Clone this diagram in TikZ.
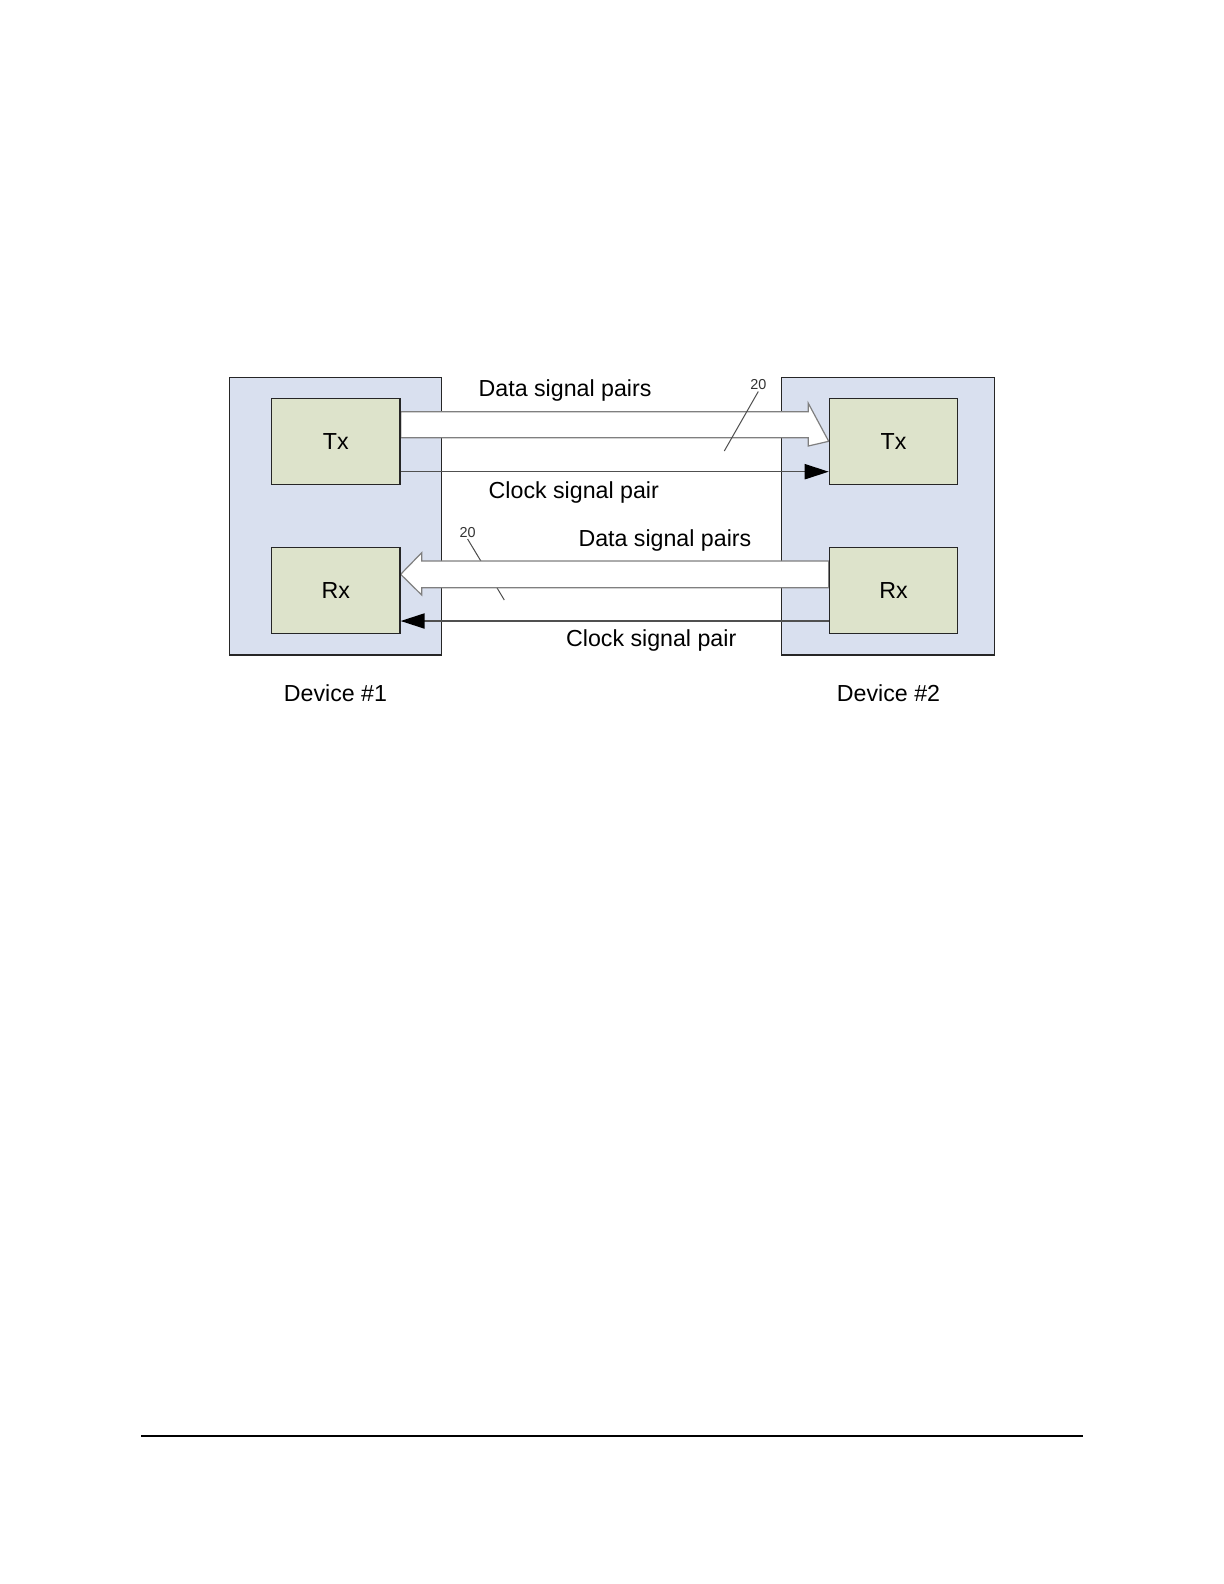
\documentclass[tikz,border=0pt]{standalone}
\usepackage{fontspec}
\setmainfont{Liberation Sans}
\usetikzlibrary{arrows.meta}
\pgfdeclarelayer{devlayer}
\pgfdeclarelayer{wirelayer}
\pgfsetlayers{devlayer,wirelayer,main}
\definecolor{devfill}{HTML}{D9E0EF}
\definecolor{blkfill}{HTML}{DDE3CB}
\definecolor{wiregray}{HTML}{7F7F7F}
\definecolor{clockgray}{HTML}{505050}
\tikzset{
  devbox/.style={draw=black!85, line width=0.6pt, fill=devfill, minimum width=106.2pt, minimum height=138.7pt, inner sep=0pt},
  blkbox/.style={draw=black!85, line width=0.6pt, fill=blkfill, minimum width=64.2pt, minimum height=43pt, inner sep=0pt, font=\fontsize{11.6}{14}\selectfont},
  lbl/.style={inner sep=0pt, font=\fontsize{11.6}{14}\selectfont},
  reflbl/.style={inner sep=0.5pt, font=\fontsize{7.2}{9}\selectfont, text=black!80},
  bigarrow/.style={draw=wiregray, line width=0.6pt, fill=white},
  clockwire/.style={draw=clockgray, line width=0.7pt, -{Triangle[length=12pt,width=7.6pt,color=black,fill=black]}},
  leader/.style={draw=black!70, line width=0.5pt}
}
\begin{document}
\begin{tikzpicture}[x=0.5pt,y=-0.5pt]
\useasboundingbox (0,0) rectangle (1224,1584);
% devices
\begin{pgfonlayer}{devlayer}
\node[devbox] (dev1) at (335.5,516.3) {};
\node[devbox] (dev2) at (888,516.3) {};
\end{pgfonlayer}
% blocks
\node[blkbox] (tx1) at (335.85,441.3) {Tx};
\node[blkbox] (rx1) at (335.85,590.8) {Rx};
\node[blkbox] (tx2) at (893.5,441.3) {Tx};
\node[blkbox] (rx2) at (893.5,590.8) {Rx};
% reference numbers
\node[reflbl] (r20a) at (758.3,385) {20};
\node[reflbl] (r20b) at (467.6,532.5) {20};
\coordinate (r20aend) at (724.3,451);
\coordinate (r20bend) at (504.3,600);
\begin{pgfonlayer}{wirelayer}
% lower leader (hidden by arrow)
\draw[leader] (r20b.south) -- (r20bend);
% upper data arrow (Tx1 -> Tx2)
\filldraw[bigarrow] (tx1.east |- 0,437.7) -- (tx1.east |- 0,411.7) -- (808.3,411.7) -- (808.3,403.3) -- (tx2.west) -- (808.3,446) -- (808.3,437.7) -- cycle;
% lower data arrow (Rx2 -> Rx1)
\filldraw[bigarrow] (rx2.west |- 0,561) -- (421.7,561) -- (421.7,552.7) -- (rx1.east |- 0,574.3) -- (421.7,595) -- (421.7,587.7) -- (rx2.west |- 0,587.7) -- cycle;
% upper leader over arrow
\draw[leader] (r20a.south) -- (r20aend);
% clock wires
\draw[clockwire] ([yshift=-15.2pt]tx1.east) -- ([yshift=-15.2pt]tx2.west);
\draw[clockwire] ([yshift=-15.1pt]rx2.west) -- ([yshift=-15.1pt]rx1.east);
\end{pgfonlayer}
% labels
\node[lbl, anchor=base west] (l1) at (478.3,396.7) {Data signal pairs};
\node[lbl, anchor=base west] (l2) at (488.3,498.3) {Clock signal pair};
\node[lbl, anchor=base east] (l3) at (751.7,546.7) {Data signal pairs};
\node[lbl, anchor=base east] (l4) at (736.7,646.7) {Clock signal pair};
\node[lbl, anchor=base] (d1) at (335.5,701) {Device \#1};
\node[lbl, anchor=base] (d2) at (888.5,701) {Device \#2};
% page rule
\draw[line width=1pt] (141,1436) -- (1082.7,1436);
\end{tikzpicture}
\end{document}
